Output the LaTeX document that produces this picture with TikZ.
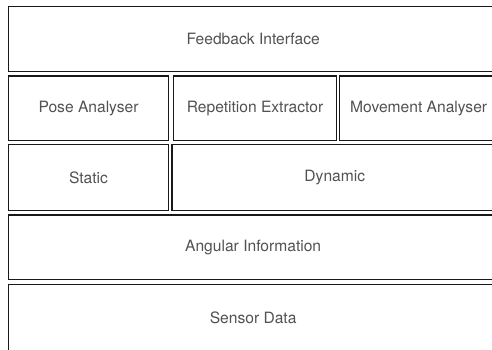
\documentclass[tikz,border=0pt]{standalone}
\usepackage{fontspec}
\setmainfont{TeX Gyre Heros}
\begin{document}
\begin{tikzpicture}[x=1pt,y=-1pt,
  layer/.style={draw=black!90, line width=1.3pt, rectangle, anchor=north west,
    inner sep=0pt, text=black!68, font=\fontsize{15.6}{18}\selectfont}]
  \clip (0,0) rectangle (492,349);
  \fill[white] (0,0) rectangle (492,349);
  % top layer
  \node[layer, minimum width=489pt, minimum height=64.7pt] (fb) at (8,6) {Feedback Interface};
  % analysis layer
  \node[layer, minimum width=159.7pt, minimum height=64.7pt] (pose) at (8,75.3) {Pose Analyser};
  \node[layer, minimum width=162.7pt, minimum height=64.7pt] (rep) at (173,75.3) {Repetition Extractor};
  \node[layer, minimum width=158pt, minimum height=64.7pt] (move) at (339,75.3) {Movement Analyser};
  % motion layer
  \node[layer, minimum width=159.7pt, minimum height=66pt] (stat) at (8,144) {Static};
  \node[layer, minimum width=325.7pt, minimum height=66pt] (dyn) at (171.3,144) {Dynamic};
  % angle layer
  \node[layer, minimum width=489pt, minimum height=64.7pt] (ang) at (8,214.3) {Angular Information};
  % sensor layer
  \node[layer, minimum width=489pt, minimum height=66pt] (sens) at (8,284) {Sensor Data};
\end{tikzpicture}
\end{document}
